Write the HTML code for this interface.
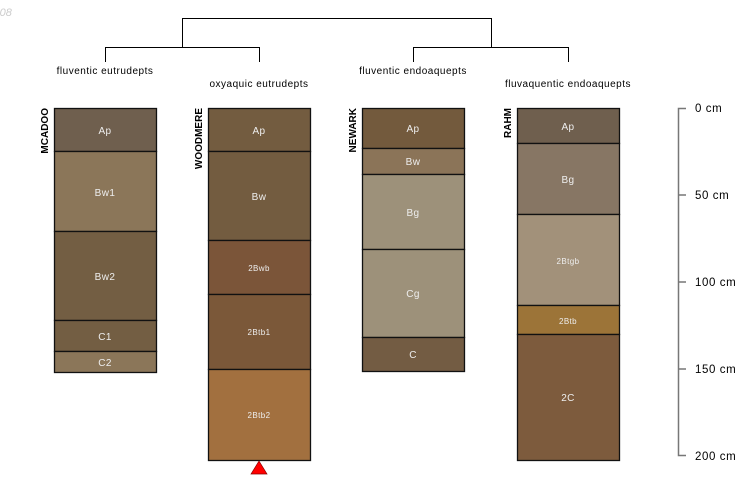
<!DOCTYPE html>
<html><head><meta charset="utf-8"><style>html,body{margin:0;padding:0;background:#fff}svg{display:block}</style></head><body>
<svg width="750" height="500" xmlns="http://www.w3.org/2000/svg" font-family="Liberation Sans, sans-serif">
<text x="-4" y="16" font-size="11" font-style="italic" fill="#ccc">-08</text>
<g stroke="#000" stroke-width="1" fill="none">
<path d="M182.5 47V18.5H491.5V47"/>
<path d="M105.5 62V47.5H259.5V62"/>
<path d="M413.5 62V47.5H568.5V62"/>
</g>
<g font-size="10" fill="#000" text-anchor="middle" letter-spacing="0.5">
<text x="105" y="74">fluventic eutrudepts</text>
<text x="259" y="87">oxyaquic eutrudepts</text>
<text x="413" y="74">fluventic endoaquepts</text>
<text x="568" y="87">fluvaquentic endoaquepts</text>
</g>
<g font-size="10" font-weight="bold" fill="#000">
<text transform="translate(48,108) rotate(-90)" text-anchor="end">MCADOO</text>
<text transform="translate(202,108) rotate(-90)" text-anchor="end">WOODMERE</text>
<text transform="translate(356,108) rotate(-90)" text-anchor="end">NEWARK</text>
<text transform="translate(511,108) rotate(-90)" text-anchor="end">RAHM</text>
</g>
<g stroke="#111" stroke-width="1.3">
<rect x="54.5" y="108.5" width="102" height="43" fill="#6f5f4e"/>
<rect x="54.5" y="151.5" width="102" height="80" fill="#8b7659"/>
<rect x="54.5" y="231.5" width="102" height="89" fill="#735e43"/>
<rect x="54.5" y="320.5" width="102" height="31" fill="#735e43"/>
<rect x="54.5" y="351.5" width="102" height="21" fill="#8b7659"/>

<rect x="208.5" y="108.5" width="102" height="43" fill="#735c40"/>
<rect x="208.5" y="151.5" width="102" height="89" fill="#735c40"/>
<rect x="208.5" y="240.5" width="102" height="54" fill="#7b5539"/>
<rect x="208.5" y="294.5" width="102" height="75" fill="#7b5839"/>
<rect x="208.5" y="369.5" width="102" height="91" fill="#a2703f"/>

<rect x="362.5" y="108.5" width="102" height="40" fill="#735a3d"/>
<rect x="362.5" y="148.5" width="102" height="26" fill="#8b7458"/>
<rect x="362.5" y="174.5" width="102" height="75" fill="#9d917a"/>
<rect x="362.5" y="249.5" width="102" height="88" fill="#9d917a"/>
<rect x="362.5" y="337.5" width="102" height="34" fill="#735c43"/>

<rect x="517.5" y="108.5" width="102" height="35" fill="#6f5f4e"/>
<rect x="517.5" y="143.5" width="102" height="71" fill="#877664"/>
<rect x="517.5" y="214.5" width="102" height="91" fill="#a2917a"/>
<rect x="517.5" y="305.5" width="102" height="29" fill="#9c7438"/>
<rect x="517.5" y="334.5" width="102" height="126" fill="#7d5b3d"/>
</g>
<g font-size="10" fill="#eee" text-anchor="middle" letter-spacing="0.4">
<text x="105" y="134">Ap</text><text x="105" y="196">Bw1</text><text x="105" y="280">Bw2</text><text x="105" y="340">C1</text><text x="105" y="366">C2</text>
<text x="259" y="134">Ap</text><text x="259" y="200">Bw</text><text x="259" y="271" font-size="8">2Bwb</text><text x="259" y="335" font-size="8">2Btb1</text><text x="259" y="418" font-size="8">2Btb2</text>
<text x="413" y="132">Ap</text><text x="413" y="165">Bw</text><text x="413" y="216">Bg</text><text x="413" y="297">Cg</text><text x="413" y="358">C</text>
<text x="568" y="130">Ap</text><text x="568" y="183">Bg</text><text x="568" y="264" font-size="8">2Btgb</text><text x="568" y="324" font-size="8">2Btb</text><text x="568" y="401">2C</text>
</g>
<polygon points="259,461 251,474 267,474" fill="#f00" stroke="#800" stroke-width="0.7"/>
<g stroke="#777" stroke-width="1.5" fill="none">
<path d="M686 108.5H678.5V455.5H686"/>
<path d="M678 195H686M678 282H686M678 369H686"/>
</g>
<g font-size="11.5" fill="#000" letter-spacing="0.6">
<text x="695" y="112">0 cm</text><text x="695" y="199">50 cm</text><text x="695" y="286">100 cm</text><text x="695" y="373">150 cm</text><text x="695" y="460">200 cm</text>
</g>
</svg>
</body></html>
